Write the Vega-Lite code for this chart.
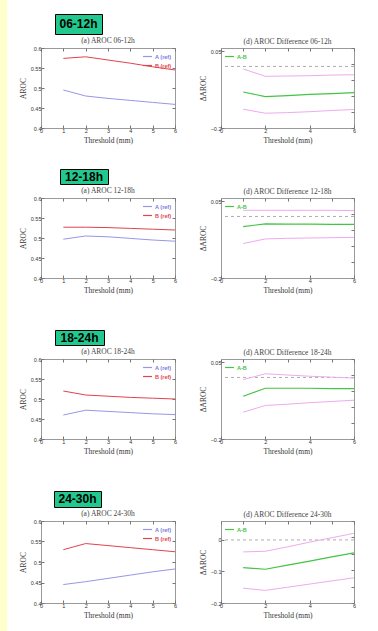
{
  "$schema": "https://vega.github.io/schema/vega-lite/v6.json",
  "padding": 0,
  "background": "white",
  "config": {
    "view": {"stroke": "#9a9a9a", "strokeWidth": 1},
    "axis": {"grid": false, "domain": false, "labelFont": "Liberation Sans", "titleFont": "Liberation Serif", "labelFontSize": 5.5, "titleFontSize": 7.5, "labelColor": "#333333", "titleColor": "#333333", "titleFontWeight": "normal", "tickSize": -3, "tickColor": "#777777", "labelPadding": 3, "titlePadding": 3, "labelOverlap": false, "labelFlush": false, "labelBound": false},
    "title": {"font": "Liberation Serif", "fontSize": 7.5, "fontWeight": "normal", "color": "#444444", "offset": 2},
    "legend": {"title": null, "symbolType": "stroke", "symbolSize": 80, "symbolStrokeWidth": 1.2, "labelFontSize": 5.5, "labelFont": "Liberation Sans", "labelFontWeight": "bold", "rowPadding": 0, "padding": 0, "offset": 3, "labelOffset": 2}
  },
  "datasets": {
    "aroc": [
      {"t": "06-12h", "s": "A (ref)", "x": 1, "y": 0.495}, {"t": "06-12h", "s": "A (ref)", "x": 2, "y": 0.480}, {"t": "06-12h", "s": "A (ref)", "x": 3, "y": 0.474}, {"t": "06-12h", "s": "A (ref)", "x": 4, "y": 0.469}, {"t": "06-12h", "s": "A (ref)", "x": 5, "y": 0.464}, {"t": "06-12h", "s": "A (ref)", "x": 6, "y": 0.459},
      {"t": "06-12h", "s": "B (ref)", "x": 1, "y": 0.574}, {"t": "06-12h", "s": "B (ref)", "x": 2, "y": 0.578}, {"t": "06-12h", "s": "B (ref)", "x": 3, "y": 0.570}, {"t": "06-12h", "s": "B (ref)", "x": 4, "y": 0.562}, {"t": "06-12h", "s": "B (ref)", "x": 5, "y": 0.553}, {"t": "06-12h", "s": "B (ref)", "x": 6, "y": 0.545},
      {"t": "12-18h", "s": "A (ref)", "x": 1, "y": 0.497}, {"t": "12-18h", "s": "A (ref)", "x": 2, "y": 0.505}, {"t": "12-18h", "s": "A (ref)", "x": 3, "y": 0.503}, {"t": "12-18h", "s": "A (ref)", "x": 4, "y": 0.499}, {"t": "12-18h", "s": "A (ref)", "x": 5, "y": 0.495}, {"t": "12-18h", "s": "A (ref)", "x": 6, "y": 0.492},
      {"t": "12-18h", "s": "B (ref)", "x": 1, "y": 0.527}, {"t": "12-18h", "s": "B (ref)", "x": 2, "y": 0.527}, {"t": "12-18h", "s": "B (ref)", "x": 3, "y": 0.526}, {"t": "12-18h", "s": "B (ref)", "x": 4, "y": 0.524}, {"t": "12-18h", "s": "B (ref)", "x": 5, "y": 0.522}, {"t": "12-18h", "s": "B (ref)", "x": 6, "y": 0.520},
      {"t": "18-24h", "s": "A (ref)", "x": 1, "y": 0.460}, {"t": "18-24h", "s": "A (ref)", "x": 2, "y": 0.472}, {"t": "18-24h", "s": "A (ref)", "x": 3, "y": 0.469}, {"t": "18-24h", "s": "A (ref)", "x": 4, "y": 0.466}, {"t": "18-24h", "s": "A (ref)", "x": 5, "y": 0.463}, {"t": "18-24h", "s": "A (ref)", "x": 6, "y": 0.461},
      {"t": "18-24h", "s": "B (ref)", "x": 1, "y": 0.520}, {"t": "18-24h", "s": "B (ref)", "x": 2, "y": 0.510}, {"t": "18-24h", "s": "B (ref)", "x": 3, "y": 0.507}, {"t": "18-24h", "s": "B (ref)", "x": 4, "y": 0.504}, {"t": "18-24h", "s": "B (ref)", "x": 5, "y": 0.502}, {"t": "18-24h", "s": "B (ref)", "x": 6, "y": 0.500},
      {"t": "24-30h", "s": "A (ref)", "x": 1, "y": 0.445}, {"t": "24-30h", "s": "A (ref)", "x": 2, "y": 0.452}, {"t": "24-30h", "s": "A (ref)", "x": 3, "y": 0.460}, {"t": "24-30h", "s": "A (ref)", "x": 4, "y": 0.468}, {"t": "24-30h", "s": "A (ref)", "x": 5, "y": 0.476}, {"t": "24-30h", "s": "A (ref)", "x": 6, "y": 0.483},
      {"t": "24-30h", "s": "B (ref)", "x": 1, "y": 0.530}, {"t": "24-30h", "s": "B (ref)", "x": 2, "y": 0.545}, {"t": "24-30h", "s": "B (ref)", "x": 3, "y": 0.540}, {"t": "24-30h", "s": "B (ref)", "x": 4, "y": 0.535}, {"t": "24-30h", "s": "B (ref)", "x": 5, "y": 0.530}, {"t": "24-30h", "s": "B (ref)", "x": 6, "y": 0.525}
    ],
    "diff": [
      {"t": "06-12h", "s": "A-B", "x": 1, "y": -0.083}, {"t": "06-12h", "s": "A-B", "x": 2, "y": -0.098}, {"t": "06-12h", "s": "A-B", "x": 3, "y": -0.095}, {"t": "06-12h", "s": "A-B", "x": 4, "y": -0.091}, {"t": "06-12h", "s": "A-B", "x": 5, "y": -0.088}, {"t": "06-12h", "s": "A-B", "x": 6, "y": -0.085},
      {"t": "06-12h", "s": "upper", "x": 1, "y": -0.008}, {"t": "06-12h", "s": "upper", "x": 2, "y": -0.032}, {"t": "06-12h", "s": "upper", "x": 3, "y": -0.031}, {"t": "06-12h", "s": "upper", "x": 4, "y": -0.030}, {"t": "06-12h", "s": "upper", "x": 5, "y": -0.028}, {"t": "06-12h", "s": "upper", "x": 6, "y": -0.027},
      {"t": "06-12h", "s": "lower", "x": 1, "y": -0.139}, {"t": "06-12h", "s": "lower", "x": 2, "y": -0.152}, {"t": "06-12h", "s": "lower", "x": 3, "y": -0.150}, {"t": "06-12h", "s": "lower", "x": 4, "y": -0.147}, {"t": "06-12h", "s": "lower", "x": 5, "y": -0.143}, {"t": "06-12h", "s": "lower", "x": 6, "y": -0.140},
      {"t": "12-18h", "s": "A-B", "x": 1, "y": -0.033}, {"t": "12-18h", "s": "A-B", "x": 2, "y": -0.024}, {"t": "12-18h", "s": "A-B", "x": 3, "y": -0.025}, {"t": "12-18h", "s": "A-B", "x": 4, "y": -0.025}, {"t": "12-18h", "s": "A-B", "x": 5, "y": -0.026}, {"t": "12-18h", "s": "A-B", "x": 6, "y": -0.026},
      {"t": "12-18h", "s": "upper", "x": 1, "y": 0.020}, {"t": "12-18h", "s": "upper", "x": 2, "y": 0.020}, {"t": "12-18h", "s": "upper", "x": 3, "y": 0.020}, {"t": "12-18h", "s": "upper", "x": 4, "y": 0.020}, {"t": "12-18h", "s": "upper", "x": 5, "y": 0.020}, {"t": "12-18h", "s": "upper", "x": 6, "y": 0.019},
      {"t": "12-18h", "s": "lower", "x": 1, "y": -0.088}, {"t": "12-18h", "s": "lower", "x": 2, "y": -0.073}, {"t": "12-18h", "s": "lower", "x": 3, "y": -0.071}, {"t": "12-18h", "s": "lower", "x": 4, "y": -0.070}, {"t": "12-18h", "s": "lower", "x": 5, "y": -0.069}, {"t": "12-18h", "s": "lower", "x": 6, "y": -0.068},
      {"t": "18-24h", "s": "A-B", "x": 1, "y": -0.061}, {"t": "18-24h", "s": "A-B", "x": 2, "y": -0.035}, {"t": "18-24h", "s": "A-B", "x": 3, "y": -0.035}, {"t": "18-24h", "s": "A-B", "x": 4, "y": -0.035}, {"t": "18-24h", "s": "A-B", "x": 5, "y": -0.036}, {"t": "18-24h", "s": "A-B", "x": 6, "y": -0.036},
      {"t": "18-24h", "s": "upper", "x": 1, "y": -0.007}, {"t": "18-24h", "s": "upper", "x": 2, "y": 0.012}, {"t": "18-24h", "s": "upper", "x": 3, "y": 0.008}, {"t": "18-24h", "s": "upper", "x": 4, "y": 0.004}, {"t": "18-24h", "s": "upper", "x": 5, "y": 0.001}, {"t": "18-24h", "s": "upper", "x": 6, "y": -0.002},
      {"t": "18-24h", "s": "lower", "x": 1, "y": -0.113}, {"t": "18-24h", "s": "lower", "x": 2, "y": -0.091}, {"t": "18-24h", "s": "lower", "x": 3, "y": -0.087}, {"t": "18-24h", "s": "lower", "x": 4, "y": -0.082}, {"t": "18-24h", "s": "lower", "x": 5, "y": -0.078}, {"t": "18-24h", "s": "lower", "x": 6, "y": -0.074},
      {"t": "24-30h", "s": "A-B", "x": 1, "y": -0.088}, {"t": "24-30h", "s": "A-B", "x": 2, "y": -0.093}, {"t": "24-30h", "s": "A-B", "x": 3, "y": -0.080}, {"t": "24-30h", "s": "A-B", "x": 4, "y": -0.067}, {"t": "24-30h", "s": "A-B", "x": 5, "y": -0.054}, {"t": "24-30h", "s": "A-B", "x": 6, "y": -0.041},
      {"t": "24-30h", "s": "upper", "x": 1, "y": -0.038}, {"t": "24-30h", "s": "upper", "x": 2, "y": -0.036}, {"t": "24-30h", "s": "upper", "x": 3, "y": -0.022}, {"t": "24-30h", "s": "upper", "x": 4, "y": -0.007}, {"t": "24-30h", "s": "upper", "x": 5, "y": 0.007}, {"t": "24-30h", "s": "upper", "x": 6, "y": 0.021},
      {"t": "24-30h", "s": "lower", "x": 1, "y": -0.153}, {"t": "24-30h", "s": "lower", "x": 2, "y": -0.160}, {"t": "24-30h", "s": "lower", "x": 3, "y": -0.150}, {"t": "24-30h", "s": "lower", "x": 4, "y": -0.140}, {"t": "24-30h", "s": "lower", "x": 5, "y": -0.130}, {"t": "24-30h", "s": "lower", "x": 6, "y": -0.120}
    ]
  },
  "spacing": 11,
  "resolve": {"scale": {"color": "independent"}, "legend": {"color": "independent"}},
  "hconcat": [
    {"width": 7, "height": 631, "data": {"values": [{}]}, "mark": {"type": "rect", "color": "#ffffcc"}, "view": {"stroke": null}},
    {
      "spacing": 23,
      "resolve": {"scale": {"color": "independent"}, "legend": {"color": "independent"}},
      "vconcat": [
        {
          "spacing": 1,
          "resolve": {"scale": {"color": "independent"}, "legend": {"color": "independent"}},
          "vconcat": [
            {"width": 1, "height": 12, "data": {"values": []}, "mark": "point", "view": {"stroke": null}},
            {"spacing": 12, "hconcat": [
              {"width": 1, "height": 1, "data": {"values": []}, "mark": "point", "view": {"stroke": null}},
              {"width": 47, "height": 20, "data": {"values": [{"label": "06-12h"}]}, "mark": {"type": "text", "font": "Liberation Sans", "fontWeight": "bold", "fontSize": 12, "color": "black"}, "encoding": {"text": {"field": "label"}}, "view": {"fill": "#22c98e", "stroke": "black", "strokeWidth": 1}}
            ]},
            {
              "spacing": 20,
              "resolve": {"scale": {"color": "independent"}, "legend": {"color": "independent"}},
              "hconcat": [
                {
                  "width": 134, "height": 80, "title": "(a) AROC 06-12h",
                  "resolve": {"scale": {"x": "independent", "y": "independent"}, "axis": {"x": "independent", "y": "independent"}},
                  "layer": [
                    {"data": {"name": "aroc"}, "transform": [{"filter": "datum.t == '06-12h'"}],
                     "mark": {"type": "line", "strokeWidth": 1},
                     "encoding": {
                       "x": {"field": "x", "type": "quantitative", "scale": {"domain": [0, 6]}, "axis": {"orient": "bottom", "values": [0, 1, 2, 3, 4, 5, 6], "labelOverlap": false, "title": "Threshold (mm)"}},
                       "y": {"field": "y", "type": "quantitative", "scale": {"domain": [0.4, 0.6], "zero": false}, "axis": {"orient": "left", "values": [0.4, 0.45, 0.5, 0.55, 0.6], "labelOverlap": false, "format": ".2~f", "title": "AROC"}},
                       "color": {"field": "s", "type": "nominal", "scale": {"domain": ["A (ref)", "B (ref)"], "range": ["#9896e6", "#e0434f"]}, "legend": {"orient": "top-right", "encode": {"labels": {"update": {"fill": {"signal": "datum.value == 'A (ref)' ? '#7a78e0' : '#e0434f'"}}}}}}
                     }},
                    {"data": {"values": []}, "mark": "point",
                     "encoding": {
                       "x": {"field": "x", "type": "quantitative", "scale": {"domain": [0, 6]}, "axis": {"orient": "top", "values": [0, 1, 2, 3, 4, 5, 6], "labels": false, "title": null}},
                       "y": {"field": "y", "type": "quantitative", "scale": {"domain": [0.4, 0.6], "zero": false}, "axis": {"orient": "right", "values": [0.4, 0.45, 0.5, 0.55, 0.6], "labels": false, "title": null}}
                     }}
                  ]
                },
                {
                  "width": 133, "height": 80, "title": "(d) AROC Difference 06-12h",
                  "resolve": {"scale": {"x": "independent", "y": "independent"}, "axis": {"x": "independent", "y": "independent"}},
                  "layer": [
                    {
                      "layer": [
                        {"data": {"values": [{}]}, "mark": {"type": "rule", "strokeDash": [3, 3], "color": "#999999", "strokeWidth": 0.8}, "encoding": {"y": {"datum": 0, "type": "quantitative", "scale": {"domain": [-0.2, 0.05]}}}},
                        {"data": {"name": "diff"}, "transform": [{"filter": "datum.t == '06-12h' && datum.s != 'A-B'"}], "mark": {"type": "line", "color": "#eeaaee", "strokeWidth": 1},
                         "encoding": {"x": {"field": "x", "type": "quantitative", "scale": {"domain": [0, 6]}, "axis": {"orient": "bottom", "values": [0, 1, 2, 3, 4, 5, 6], "labelOverlap": false, "title": "Threshold (mm)"}}, "y": {"field": "y", "type": "quantitative", "scale": {"domain": [-0.2, 0.05]}, "axis": {"orient": "left", "values": [-0.2, -0.15, -0.1, -0.05, 0, 0.05], "labelOverlap": false, "format": ".2~f", "title": "ΔAROC"}}, "detail": {"field": "s"}}},
                        {"data": {"name": "diff"}, "transform": [{"filter": "datum.t == '06-12h' && datum.s == 'A-B'"}], "mark": {"type": "line", "strokeWidth": 1.2},
                         "encoding": {"x": {"field": "x", "type": "quantitative"}, "y": {"field": "y", "type": "quantitative"}, "color": {"field": "s", "type": "nominal", "scale": {"domain": ["A-B"], "range": ["#44c444"]}, "legend": {"orient": "top-left", "labelColor": "#44c444"}}}}
                      ]
                    },
                    {"data": {"values": []}, "mark": "point",
                     "encoding": {
                       "x": {"field": "x", "type": "quantitative", "scale": {"domain": [0, 6]}, "axis": {"orient": "top", "values": [0, 1, 2, 3, 4, 5, 6], "labels": false, "title": null}},
                       "y": {"field": "y", "type": "quantitative", "scale": {"domain": [-0.2, 0.05]}, "axis": {"orient": "right", "values": [-0.2, -0.15, -0.1, -0.05, 0, 0.05], "labels": false, "title": null}}
                     }}
                  ]
                }
              ]
            }
          ]
        },
        {
          "spacing": 34,
          "resolve": {"scale": {"color": "independent"}, "legend": {"color": "independent"}},
          "vconcat": [
            {
              "spacing": 1,
              "resolve": {"scale": {"color": "independent"}, "legend": {"color": "independent"}},
              "vconcat": [
                {"spacing": 17, "hconcat": [
                  {"width": 1, "height": 1, "data": {"values": []}, "mark": "point", "view": {"stroke": null}},
                  {"width": 48, "height": 15, "data": {"values": [{"label": "12-18h"}]}, "mark": {"type": "text", "font": "Liberation Sans", "fontWeight": "bold", "fontSize": 12, "color": "black"}, "encoding": {"text": {"field": "label"}}, "view": {"fill": "#22c98e", "stroke": "black", "strokeWidth": 1}}
                ]},
                {
                  "spacing": 20,
                  "resolve": {"scale": {"color": "independent"}, "legend": {"color": "independent"}},
                  "hconcat": [
                    {
                      "width": 134, "height": 80, "title": "(a) AROC 12-18h",
                      "resolve": {"scale": {"x": "independent", "y": "independent"}, "axis": {"x": "independent", "y": "independent"}},
                      "layer": [
                        {"data": {"name": "aroc"}, "transform": [{"filter": "datum.t == '12-18h'"}],
                         "mark": {"type": "line", "strokeWidth": 1},
                         "encoding": {
                           "x": {"field": "x", "type": "quantitative", "scale": {"domain": [0, 6]}, "axis": {"orient": "bottom", "values": [0, 1, 2, 3, 4, 5, 6], "labelOverlap": false, "title": "Threshold (mm)"}},
                           "y": {"field": "y", "type": "quantitative", "scale": {"domain": [0.4, 0.6], "zero": false}, "axis": {"orient": "left", "values": [0.4, 0.45, 0.5, 0.55, 0.6], "labelOverlap": false, "format": ".2~f", "title": "AROC"}},
                           "color": {"field": "s", "type": "nominal", "scale": {"domain": ["A (ref)", "B (ref)"], "range": ["#9896e6", "#e0434f"]}, "legend": {"orient": "top-right", "encode": {"labels": {"update": {"fill": {"signal": "datum.value == 'A (ref)' ? '#7a78e0' : '#e0434f'"}}}}}}
                         }},
                        {"data": {"values": []}, "mark": "point",
                         "encoding": {
                           "x": {"field": "x", "type": "quantitative", "scale": {"domain": [0, 6]}, "axis": {"orient": "top", "values": [0, 1, 2, 3, 4, 5, 6], "labels": false, "title": null}},
                           "y": {"field": "y", "type": "quantitative", "scale": {"domain": [0.4, 0.6], "zero": false}, "axis": {"orient": "right", "values": [0.4, 0.45, 0.5, 0.55, 0.6], "labels": false, "title": null}}
                         }}
                      ]
                    },
                    {
                      "width": 133, "height": 80, "title": "(d) AROC Difference 12-18h",
                      "resolve": {"scale": {"x": "independent", "y": "independent"}, "axis": {"x": "independent", "y": "independent"}},
                      "layer": [
                        {
                          "layer": [
                            {"data": {"values": [{}]}, "mark": {"type": "rule", "strokeDash": [3, 3], "color": "#999999", "strokeWidth": 0.8}, "encoding": {"y": {"datum": 0, "type": "quantitative", "scale": {"domain": [-0.2, 0.05]}}}},
                            {"data": {"name": "diff"}, "transform": [{"filter": "datum.t == '12-18h' && datum.s != 'A-B'"}], "mark": {"type": "line", "color": "#eeaaee", "strokeWidth": 1},
                             "encoding": {"x": {"field": "x", "type": "quantitative", "scale": {"domain": [0, 6]}, "axis": {"orient": "bottom", "values": [0, 1, 2, 3, 4, 5, 6], "labelOverlap": false, "title": "Threshold (mm)"}}, "y": {"field": "y", "type": "quantitative", "scale": {"domain": [-0.2, 0.05]}, "axis": {"orient": "left", "values": [-0.2, -0.15, -0.1, -0.05, 0, 0.05], "labelOverlap": false, "format": ".2~f", "title": "ΔAROC"}}, "detail": {"field": "s"}}},
                            {"data": {"name": "diff"}, "transform": [{"filter": "datum.t == '12-18h' && datum.s == 'A-B'"}], "mark": {"type": "line", "strokeWidth": 1.2},
                             "encoding": {"x": {"field": "x", "type": "quantitative"}, "y": {"field": "y", "type": "quantitative"}, "color": {"field": "s", "type": "nominal", "scale": {"domain": ["A-B"], "range": ["#44c444"]}, "legend": {"orient": "top-left", "labelColor": "#44c444"}}}}
                          ]
                        },
                        {"data": {"values": []}, "mark": "point",
                         "encoding": {
                           "x": {"field": "x", "type": "quantitative", "scale": {"domain": [0, 6]}, "axis": {"orient": "top", "values": [0, 1, 2, 3, 4, 5, 6], "labels": false, "title": null}},
                           "y": {"field": "y", "type": "quantitative", "scale": {"domain": [-0.2, 0.05]}, "axis": {"orient": "right", "values": [-0.2, -0.15, -0.1, -0.05, 0, 0.05], "labels": false, "title": null}}
                         }}
                      ]
                    }
                  ]
                }
              ]
            },
            {
              "spacing": 1,
              "resolve": {"scale": {"color": "independent"}, "legend": {"color": "independent"}},
              "vconcat": [
                {"spacing": 12, "hconcat": [
                  {"width": 1, "height": 1, "data": {"values": []}, "mark": "point", "view": {"stroke": null}},
                  {"width": 49, "height": 15, "data": {"values": [{"label": "18-24h"}]}, "mark": {"type": "text", "font": "Liberation Sans", "fontWeight": "bold", "fontSize": 12, "color": "black"}, "encoding": {"text": {"field": "label"}}, "view": {"fill": "#22c98e", "stroke": "black", "strokeWidth": 1}}
                ]},
                {
                  "spacing": 20,
                  "resolve": {"scale": {"color": "independent"}, "legend": {"color": "independent"}},
                  "hconcat": [
                    {
                      "width": 134, "height": 80, "title": "(a) AROC 18-24h",
                      "resolve": {"scale": {"x": "independent", "y": "independent"}, "axis": {"x": "independent", "y": "independent"}},
                      "layer": [
                        {"data": {"name": "aroc"}, "transform": [{"filter": "datum.t == '18-24h'"}],
                         "mark": {"type": "line", "strokeWidth": 1},
                         "encoding": {
                           "x": {"field": "x", "type": "quantitative", "scale": {"domain": [0, 6]}, "axis": {"orient": "bottom", "values": [0, 1, 2, 3, 4, 5, 6], "labelOverlap": false, "title": "Threshold (mm)"}},
                           "y": {"field": "y", "type": "quantitative", "scale": {"domain": [0.4, 0.6], "zero": false}, "axis": {"orient": "left", "values": [0.4, 0.45, 0.5, 0.55, 0.6], "labelOverlap": false, "format": ".2~f", "title": "AROC"}},
                           "color": {"field": "s", "type": "nominal", "scale": {"domain": ["A (ref)", "B (ref)"], "range": ["#9896e6", "#e0434f"]}, "legend": {"orient": "top-right", "encode": {"labels": {"update": {"fill": {"signal": "datum.value == 'A (ref)' ? '#7a78e0' : '#e0434f'"}}}}}}
                         }},
                        {"data": {"values": []}, "mark": "point",
                         "encoding": {
                           "x": {"field": "x", "type": "quantitative", "scale": {"domain": [0, 6]}, "axis": {"orient": "top", "values": [0, 1, 2, 3, 4, 5, 6], "labels": false, "title": null}},
                           "y": {"field": "y", "type": "quantitative", "scale": {"domain": [0.4, 0.6], "zero": false}, "axis": {"orient": "right", "values": [0.4, 0.45, 0.5, 0.55, 0.6], "labels": false, "title": null}}
                         }}
                      ]
                    },
                    {
                      "width": 133, "height": 80, "title": "(d) AROC Difference 18-24h",
                      "resolve": {"scale": {"x": "independent", "y": "independent"}, "axis": {"x": "independent", "y": "independent"}},
                      "layer": [
                        {
                          "layer": [
                            {"data": {"values": [{}]}, "mark": {"type": "rule", "strokeDash": [3, 3], "color": "#999999", "strokeWidth": 0.8}, "encoding": {"y": {"datum": 0, "type": "quantitative", "scale": {"domain": [-0.2, 0.05]}}}},
                            {"data": {"name": "diff"}, "transform": [{"filter": "datum.t == '18-24h' && datum.s != 'A-B'"}], "mark": {"type": "line", "color": "#eeaaee", "strokeWidth": 1},
                             "encoding": {"x": {"field": "x", "type": "quantitative", "scale": {"domain": [0, 6]}, "axis": {"orient": "bottom", "values": [0, 1, 2, 3, 4, 5, 6], "labelOverlap": false, "title": "Threshold (mm)"}}, "y": {"field": "y", "type": "quantitative", "scale": {"domain": [-0.2, 0.05]}, "axis": {"orient": "left", "values": [-0.2, -0.15, -0.1, -0.05, 0, 0.05], "labelOverlap": false, "format": ".2~f", "title": "ΔAROC"}}, "detail": {"field": "s"}}},
                            {"data": {"name": "diff"}, "transform": [{"filter": "datum.t == '18-24h' && datum.s == 'A-B'"}], "mark": {"type": "line", "strokeWidth": 1.2},
                             "encoding": {"x": {"field": "x", "type": "quantitative"}, "y": {"field": "y", "type": "quantitative"}, "color": {"field": "s", "type": "nominal", "scale": {"domain": ["A-B"], "range": ["#44c444"]}, "legend": {"orient": "top-left", "labelColor": "#44c444"}}}}
                          ]
                        },
                        {"data": {"values": []}, "mark": "point",
                         "encoding": {
                           "x": {"field": "x", "type": "quantitative", "scale": {"domain": [0, 6]}, "axis": {"orient": "top", "values": [0, 1, 2, 3, 4, 5, 6], "labels": false, "title": null}},
                           "y": {"field": "y", "type": "quantitative", "scale": {"domain": [-0.2, 0.05]}, "axis": {"orient": "right", "values": [-0.2, -0.15, -0.1, -0.05, 0, 0.05], "labels": false, "title": null}}
                         }}
                      ]
                    }
                  ]
                }
              ]
            },
            {
              "spacing": 1,
              "resolve": {"scale": {"color": "independent"}, "legend": {"color": "independent"}},
              "vconcat": [
                {"spacing": 11, "hconcat": [
                  {"width": 1, "height": 1, "data": {"values": []}, "mark": "point", "view": {"stroke": null}},
                  {"width": 47, "height": 16, "data": {"values": [{"label": "24-30h"}]}, "mark": {"type": "text", "font": "Liberation Sans", "fontWeight": "bold", "fontSize": 12, "color": "black"}, "encoding": {"text": {"field": "label"}}, "view": {"fill": "#22c98e", "stroke": "black", "strokeWidth": 1}}
                ]},
                {
                  "spacing": 20,
                  "resolve": {"scale": {"color": "independent"}, "legend": {"color": "independent"}},
                  "hconcat": [
                    {
                      "width": 134, "height": 82, "title": "(a) AROC 24-30h",
                      "resolve": {"scale": {"x": "independent", "y": "independent"}, "axis": {"x": "independent", "y": "independent"}},
                      "layer": [
                        {"data": {"name": "aroc"}, "transform": [{"filter": "datum.t == '24-30h'"}],
                         "mark": {"type": "line", "strokeWidth": 1},
                         "encoding": {
                           "x": {"field": "x", "type": "quantitative", "scale": {"domain": [0, 6]}, "axis": {"orient": "bottom", "values": [0, 1, 2, 3, 4, 5, 6], "labelOverlap": false, "title": "Threshold (mm)"}},
                           "y": {"field": "y", "type": "quantitative", "scale": {"domain": [0.4, 0.6], "zero": false}, "axis": {"orient": "left", "values": [0.4, 0.45, 0.5, 0.55, 0.6], "labelOverlap": false, "format": ".2~f", "title": "AROC"}},
                           "color": {"field": "s", "type": "nominal", "scale": {"domain": ["A (ref)", "B (ref)"], "range": ["#9896e6", "#e0434f"]}, "legend": {"orient": "top-right", "encode": {"labels": {"update": {"fill": {"signal": "datum.value == 'A (ref)' ? '#7a78e0' : '#e0434f'"}}}}}}
                         }},
                        {"data": {"values": []}, "mark": "point",
                         "encoding": {
                           "x": {"field": "x", "type": "quantitative", "scale": {"domain": [0, 6]}, "axis": {"orient": "top", "values": [0, 1, 2, 3, 4, 5, 6], "labels": false, "title": null}},
                           "y": {"field": "y", "type": "quantitative", "scale": {"domain": [0.4, 0.6], "zero": false}, "axis": {"orient": "right", "values": [0.4, 0.45, 0.5, 0.55, 0.6], "labels": false, "title": null}}
                         }}
                      ]
                    },
                    {
                      "width": 133, "height": 82, "title": "(d) AROC Difference 24-30h",
                      "resolve": {"scale": {"x": "independent", "y": "independent"}, "axis": {"x": "independent", "y": "independent"}},
                      "layer": [
                        {
                          "layer": [
                            {"data": {"values": [{}]}, "mark": {"type": "rule", "strokeDash": [3, 3], "color": "#999999", "strokeWidth": 0.8}, "encoding": {"y": {"datum": 0, "type": "quantitative", "scale": {"domain": [-0.2, 0.05]}}}},
                            {"data": {"name": "diff"}, "transform": [{"filter": "datum.t == '24-30h' && datum.s != 'A-B'"}], "mark": {"type": "line", "color": "#eeaaee", "strokeWidth": 1},
                             "encoding": {"x": {"field": "x", "type": "quantitative", "scale": {"domain": [0, 6]}, "axis": {"orient": "bottom", "values": [0, 1, 2, 3, 4, 5, 6], "labelOverlap": false, "title": "Threshold (mm)"}}, "y": {"field": "y", "type": "quantitative", "scale": {"domain": [-0.2, 0.05]}, "axis": {"orient": "left", "values": [-0.2, -0.15, -0.1, -0.05, 0, 0.05], "labelOverlap": false, "format": ".2~f", "title": "ΔAROC"}}, "detail": {"field": "s"}}},
                            {"data": {"name": "diff"}, "transform": [{"filter": "datum.t == '24-30h' && datum.s == 'A-B'"}], "mark": {"type": "line", "strokeWidth": 1.2},
                             "encoding": {"x": {"field": "x", "type": "quantitative"}, "y": {"field": "y", "type": "quantitative"}, "color": {"field": "s", "type": "nominal", "scale": {"domain": ["A-B"], "range": ["#44c444"]}, "legend": {"orient": "top-left", "labelColor": "#44c444"}}}}
                          ]
                        },
                        {"data": {"values": []}, "mark": "point",
                         "encoding": {
                           "x": {"field": "x", "type": "quantitative", "scale": {"domain": [0, 6]}, "axis": {"orient": "top", "values": [0, 1, 2, 3, 4, 5, 6], "labels": false, "title": null}},
                           "y": {"field": "y", "type": "quantitative", "scale": {"domain": [-0.2, 0.05]}, "axis": {"orient": "right", "values": [-0.2, -0.15, -0.1, -0.05, 0, 0.05], "labels": false, "title": null}}
                         }}
                      ]
                    }
                  ]
                }
              ]
            }
          ]
        }
      ]
    }
  ]
}
